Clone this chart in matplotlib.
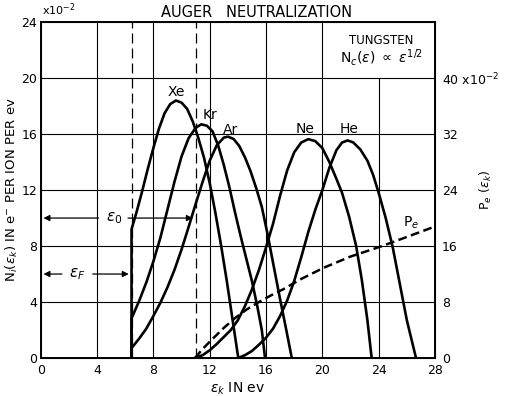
import matplotlib
matplotlib.use('Agg')
import matplotlib.pyplot as plt

# Auger neutralization spectra on tungsten, N_i(e_k) in 1e-2 units
xe_x = [6.45, 6.45, 6.8, 7.2, 7.6, 8.0, 8.4, 8.8, 9.2, 9.6, 10.0, 10.4, 10.8, 11.2, 11.6, 12.0, 12.4, 12.8, 13.2, 13.6, 14.03]
xe_y = [0.0, 9.2, 10.4, 11.9, 13.5, 15.0, 16.4, 17.5, 18.15, 18.4, 18.25, 17.8, 16.9, 15.7, 14.3, 12.5, 10.4, 8.1, 5.6, 2.9, 0.0]

kr_x = [6.45, 6.45, 7.0, 7.5, 8.0, 8.5, 9.0, 9.5, 10.0, 10.5, 11.0, 11.4, 11.8, 12.2, 12.6, 13.0, 13.4, 13.8, 14.2, 14.6, 15.0, 15.4, 15.7, 15.93]
kr_y = [0.0, 2.83, 4.1, 5.4, 6.9, 8.6, 10.6, 12.6, 14.4, 15.7, 16.45, 16.7, 16.6, 16.2, 15.2, 13.8, 12.2, 10.4, 8.7, 7.1, 5.5, 3.6, 2.0, 0.0]

ar_x = [6.45, 6.45, 7.0, 7.5, 8.0, 8.5, 9.0, 9.5, 10.0, 10.5, 11.0, 11.5, 12.0, 12.5, 13.0, 13.3, 13.7, 14.1, 14.5, 14.9, 15.3, 15.7, 16.1, 16.5, 17.0, 17.4, 17.83]
ar_y = [0.0, 0.7, 1.4, 2.1, 3.0, 3.95, 5.05, 6.3, 7.75, 9.35, 11.0, 12.6, 14.1, 15.2, 15.75, 15.82, 15.65, 15.15, 14.35, 13.35, 12.15, 10.8, 8.9, 6.8, 4.2, 2.2, 0.0]

ne_x = [10.96, 11.5, 12.0, 12.5, 13.0, 13.5, 14.0, 14.5, 15.0, 15.5, 16.0, 16.5, 17.0, 17.5, 18.0, 18.5, 19.0, 19.5, 20.0, 20.5, 21.0, 21.4, 21.9, 22.4, 22.8, 23.2, 23.5]
ne_y = [0.0, 0.2, 0.55, 1.0, 1.5, 2.0, 2.7, 3.7, 4.9, 6.3, 7.9, 9.6, 11.6, 13.4, 14.7, 15.4, 15.64, 15.5, 15.0, 14.0, 12.8, 11.8, 10.1, 8.0, 5.6, 2.7, 0.0]

he_x = [14.03, 14.5, 15.0, 15.5, 16.0, 16.5, 17.0, 17.5, 18.0, 18.5, 19.0, 19.5, 20.0, 20.5, 21.0, 21.4, 21.8, 22.2, 22.7, 23.2, 23.6, 24.0, 24.5, 25.0, 25.5, 26.0, 26.65]
he_y = [0.0, 0.2, 0.5, 0.95, 1.45, 2.1, 3.0, 4.1, 5.5, 7.2, 9.0, 10.6, 12.0, 13.6, 14.85, 15.4, 15.55, 15.4, 14.9, 14.1, 13.1, 11.8, 10.0, 7.9, 5.3, 2.7, 0.0]

# ejection probability Pe(e_k) in 1e-2 units (right axis)
pe_x = [10.96, 11.5, 12.14, 13.0, 13.8, 14.6, 15.5, 16.4, 17.2, 18.5, 20.1, 22.0, 24.1, 26.0, 28.0]
pe_y = [0.0, 1.3, 2.6, 4.3, 5.7, 6.9, 8.0, 9.0, 9.8, 11.3, 12.9, 14.5, 15.9, 17.3, 18.8]

x_ticks = [0, 4, 8, 12, 16, 20, 24, 28]
y_ticks = [0, 4, 8, 12, 16, 20, 24]
pe_ticks = [0, 8, 16, 24, 32, 40]
pe_ticklabels = ['0', '8', '16', '24', '32', '40 x10$^{-2}$']

eps_f = 6.45
eps_0 = 11.0

plt.rcParams['font.family'] = 'DejaVu Sans'
plt.rcParams['font.size'] = 9

fig = plt.figure(figsize=(5.05, 3.96), dpi=100)
ax = fig.add_axes([0.0806, 0.096, 0.7808, 0.848])
ax.set_xlim(0, 28)
ax.set_ylim(0, 24)

# grid drawn by hand, the x=24 line stops under the legend box
for gx in [4, 8, 12, 16, 20]:
    ax.axvline(gx, color='black', lw=0.8, zorder=1)
ax.vlines(24, 0, 20, color='black', lw=0.8, zorder=1)
for gy in [4, 8, 12, 16, 20]:
    ax.axhline(gy, color='black', lw=0.8, zorder=1)

ax.axvline(eps_f, color='black', lw=0.9, dashes=(8, 4), zorder=1)
ax.axvline(eps_0, color='black', lw=0.9, dashes=(8, 4), zorder=1)

for cx, cy in [(xe_x, xe_y), (kr_x, kr_y), (ar_x, ar_y), (ne_x, ne_y), (he_x, he_y)]:
    ax.plot(cx, cy, color='black', lw=1.9, solid_joinstyle='round', zorder=3)

ax.text(9.65, 19.0, 'Xe', ha='center', va='center', fontsize=10)
ax.text(12.0, 17.4, 'Kr', ha='center', va='center', fontsize=10)
ax.text(13.5, 16.3, 'Ar', ha='center', va='center', fontsize=10)
ax.text(18.8, 16.4, 'Ne', ha='center', va='center', fontsize=10)
ax.text(21.9, 16.4, 'He', ha='center', va='center', fontsize=10)

# energy arrows
arr = dict(arrowstyle='-|>', color='black', lw=0.9, mutation_scale=9)
ax.annotate('', xy=(0, 10), xytext=(4.3, 10), arrowprops=arr)
ax.annotate('', xy=(eps_0, 10), xytext=(6.0, 10), arrowprops=arr)
ax.text(5.2, 10, r'$\epsilon_0$', ha='center', va='center', fontsize=11)
ax.annotate('', xy=(0, 6), xytext=(1.7, 6), arrowprops=arr)
ax.annotate('', xy=(eps_f, 6), xytext=(3.5, 6), arrowprops=arr)
ax.text(2.6, 6, r'$\epsilon_F$', ha='center', va='center', fontsize=11)

ax.text(24.2, 22.7, 'TUNGSTEN', ha='center', va='center', fontsize=8.5)
ax.text(24.2, 21.5, r'N$_c(\epsilon)$ $\propto$ $\epsilon^{1/2}$', ha='center', va='center', fontsize=10)

ax.set_xticks(x_ticks)
ax.set_yticks(y_ticks)
ax.tick_params(length=0, labelsize=9)
ax.tick_params(axis='y', pad=2.5)
ax.tick_params(axis='x', pad=4)
ax.text(0.1, 24.3, 'x10$^{-2}$', ha='left', va='bottom', fontsize=8)
ax.text(15.3, 24.35, 'AUGER   NEUTRALIZATION', ha='center', va='baseline', fontsize=10.5)
ax.set_xlabel(r'$\epsilon_k$ IN ev', fontsize=10, labelpad=3)
ax.set_ylabel(r'N$_i(\epsilon_k)$ IN e$^{-}$ PER ION PER ev', fontsize=9.5)
ax.yaxis.set_label_coords(-0.052, 0.5)
for s in ax.spines.values():
    s.set_linewidth(1.4)

ax2 = ax.twinx()
ax2.set_ylim(0, 48)
ax2.set_yticks(pe_ticks)
ax2.set_yticklabels(pe_ticklabels)
ax2.tick_params(length=0, pad=5, labelsize=9)
ax2.plot(pe_x, pe_y, color='black', lw=1.8, dashes=(3.5, 1.8), zorder=3)
ax2.text(26.3, 19.3, 'P$_e$', ha='center', va='center', fontsize=10)
ax2.set_ylabel(r'P$_e$ $(\epsilon_k)$', fontsize=9)
ax2.yaxis.set_label_coords(1.11, 0.5)

fig.savefig('out.png', dpi=100)
